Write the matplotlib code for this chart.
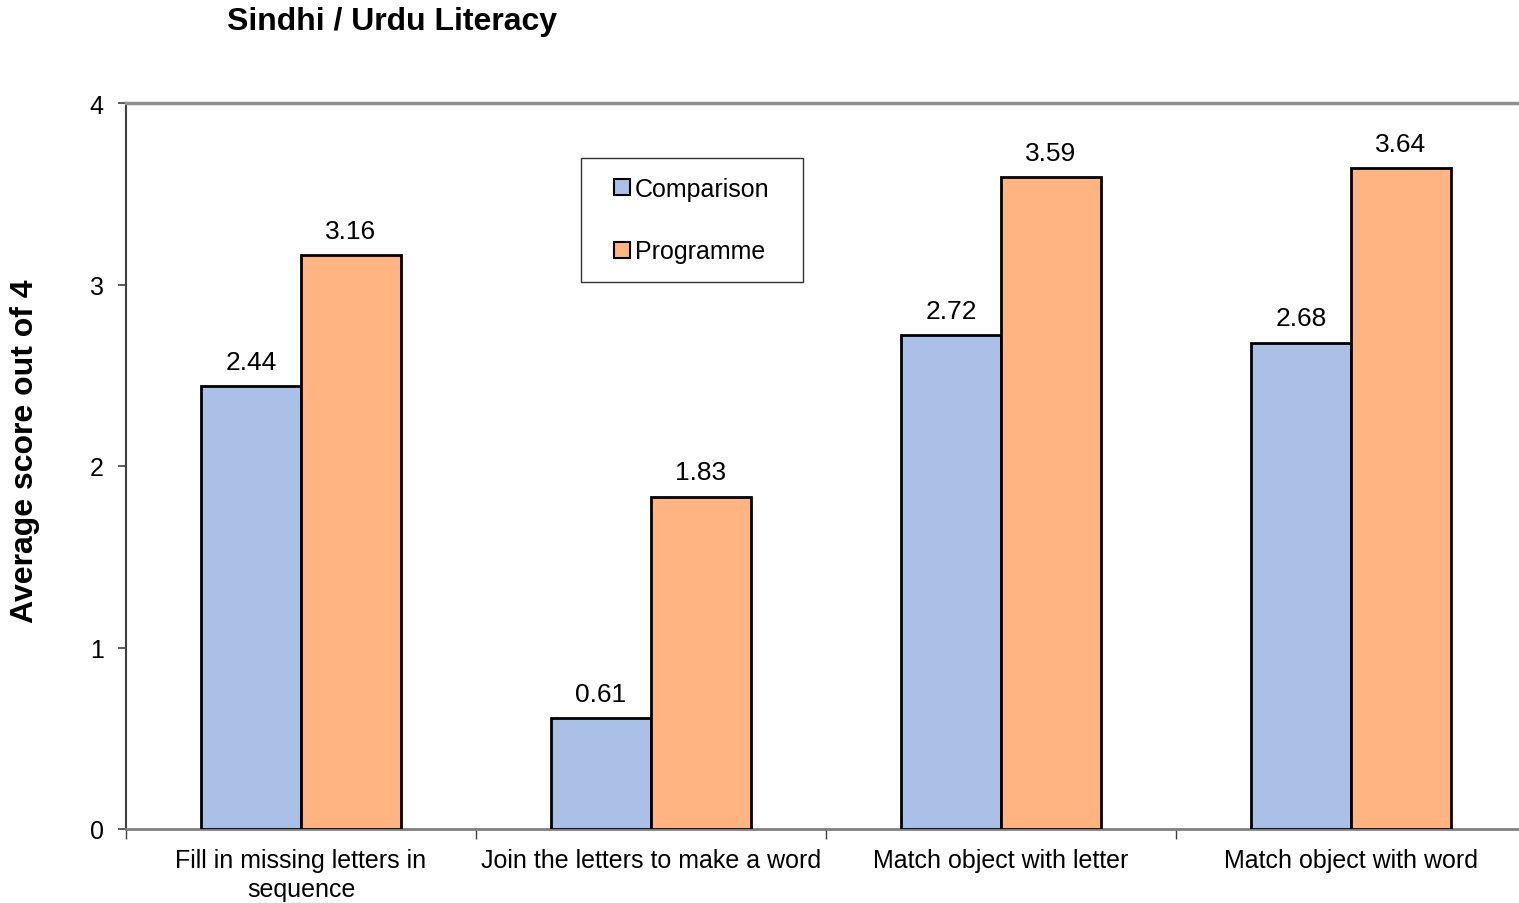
import matplotlib
matplotlib.use('Agg')
import matplotlib.pyplot as plt
import matplotlib.patches as mpatches
from matplotlib.container import BarContainer
from matplotlib.legend_handler import HandlerPatch, update_from_first_child
import numpy as np

# data
categories = ['Fill in missing letters in\nsequence', 'Join the letters to make a word',
              'Match object with letter', 'Match object with word']
comparison = [2.44, 0.61, 2.72, 2.68]
programme = [3.16, 1.83, 3.59, 3.64]
series_names = ['Comparison', 'Programme']
colors = ['#ABC0E6', '#FFB482']

plt.rcParams['font.family'] = ['Liberation Sans', 'DejaVu Sans']

fig = plt.figure(figsize=(15.19, 9.04), dpi=100)
ax = fig.add_axes([126/1519, 74/904, 1400/1519, 726/904])

x = np.arange(len(categories))
w = 100/350
b1 = ax.bar(x - w/2, comparison, w, color=colors[0], edgecolor='black', linewidth=2, label=series_names[0], zorder=3)
b2 = ax.bar(x + w/2, programme, w, color=colors[1], edgecolor='black', linewidth=2, label=series_names[1], zorder=3)

for bars, vals in [(b1, comparison), (b2, programme)]:
    for r, v in zip(bars, vals):
        ax.annotate('%.2f' % v, (r.get_x() + r.get_width()/2, v), xytext=(0, 9),
                    textcoords='offset points', ha='center', va='bottom', fontsize=19)

ax.set_xlim(-0.5, 3.5)
ax.set_ylim(0, 4)
ax.set_yticks([0, 1, 2, 3, 4])
ax.tick_params(axis='y', labelsize=18, length=6, width=1.2, color='#404040', pad=10)
ax.set_xticks(x)
ax.set_xticklabels(categories, fontsize=18, linespacing=1.25)
ax.tick_params(axis='x', length=0, pad=14)
ax.set_xticks(np.arange(-0.5, 4, 1), minor=True)
ax.tick_params(axis='x', which='minor', length=7, width=1, color='#404040')

ax.spines['left'].set_color('#404040')
ax.spines['left'].set_linewidth(1.5)
ax.spines['bottom'].set_color('#808080')
ax.spines['bottom'].set_linewidth(2)
ax.spines['top'].set_color('#909090')
ax.spines['top'].set_linewidth(2.5)
ax.spines['right'].set_visible(False)

fig.text(25/1519, 1 - 451/904, 'Average score out of 4', fontsize=23, fontweight='bold',
         rotation=90, ha='center', va='center')

fig.text(227/1519, 1 - 22/904, 'Sindhi / Urdu Literacy', fontsize=23, fontweight='bold',
         ha='left', va='center')


# small square placed at the right end of the handle box
def square_handle(legend, orig_handle, xdescent, ydescent, width, height, fontsize):
    s = height
    return mpatches.Rectangle((-xdescent + width - s, -ydescent), s, s)


leg_top = (830 - 159) / 726
leg = ax.legend(loc='upper left',
                bbox_to_anchor=((581-126)/1400, leg_top - 0.001, 222/1400, 0.001),
                mode='expand', fontsize=18, frameon=True, fancybox=False, edgecolor='black',
                handlelength=1.2, handleheight=0.6, handletextpad=0.2,
                labelspacing=1.55, borderpad=0.75, borderaxespad=0,
                handler_map={BarContainer: HandlerPatch(patch_func=square_handle,
                                                        update_func=update_from_first_child)})
leg.get_frame().set_linewidth(1)
for h in leg.legend_handles:
    h.set_linewidth(1.5)

fig.savefig('out.png', dpi=100)
